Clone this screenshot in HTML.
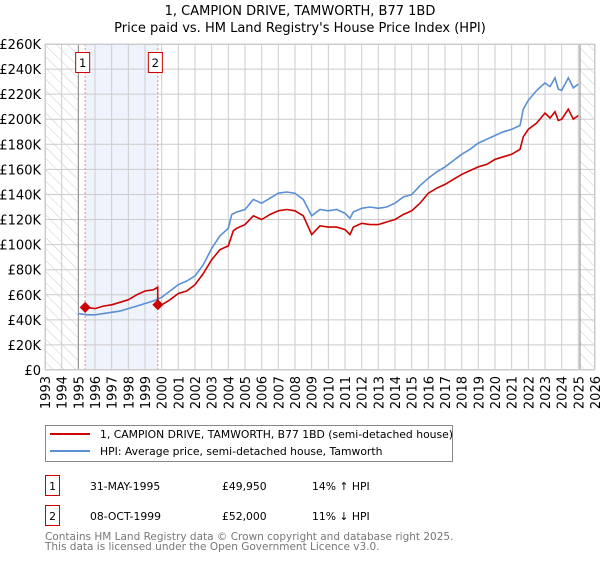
<!DOCTYPE html>
<html><head><meta charset="utf-8"><style>
body{margin:0;background:#fff;width:600px;height:560px;overflow:hidden;font-family:"DejaVu Sans","Liberation Sans",sans-serif;}
text{font-family:"DejaVu Sans","Liberation Sans",sans-serif;}
</style></head><body>
<svg id="chart" width="600" height="560" viewBox="0 0 600 560" xmlns="http://www.w3.org/2000/svg">
<defs>
<pattern id="hatch" patternUnits="userSpaceOnUse" width="8" height="8" patternTransform="rotate(-45)">
<line x1="0" y1="0" x2="0" y2="8" stroke="#ccc" stroke-width="1"/></pattern>
</defs>
<text x="300" y="15" text-anchor="middle" font-size="13">1, CAMPION DRIVE, TAMWORTH, B77 1BD</text>
<text x="300" y="32" text-anchor="middle" font-size="13">Price paid vs. HM Land Registry's House Price Index (HPI)</text>
<g id="plot"></g>
<rect x="45.5" y="425.5" width="407" height="36" fill="#fff" stroke="#888"/>
<line x1="50" y1="434" x2="90" y2="434" stroke="#cc0000" stroke-width="2"/>
<text x="100" y="438" font-size="10.8">1, CAMPION DRIVE, TAMWORTH, B77 1BD (semi-detached house)</text>
<line x1="50" y1="451" x2="90" y2="451" stroke="#5b8fd4" stroke-width="2"/>
<text x="100" y="455" font-size="10.8">HPI: Average price, semi-detached house, Tamworth</text>
<g>
<rect x="45.5" y="475.5" width="14" height="20" fill="#fff" stroke="#cc0000"/>
<text x="52.5" y="490" text-anchor="middle" font-size="10.8">1</text>
<text x="90" y="490" font-size="10.8">31-MAY-1995</text>
<text x="222" y="490" font-size="10.8">£49,950</text>
<text x="312" y="490" font-size="10.8">14% ↑ HPI</text></g>
<g>
<rect x="45.5" y="505.5" width="14" height="20" fill="#fff" stroke="#cc0000"/>
<text x="52.5" y="520" text-anchor="middle" font-size="10.8">2</text>
<text x="90" y="520" font-size="10.8">08-OCT-1999</text>
<text x="222" y="520" font-size="10.8">£52,000</text>
<text x="312" y="520" font-size="10.8">11% ↓ HPI</text></g>
<text x="45" y="540" font-size="10.5" fill="#777">Contains HM Land Registry data © Crown copyright and database right 2025.</text>
<text x="45" y="550" font-size="10.5" fill="#777">This data is licensed under the Open Government Licence v3.0.</text>
</svg>
<script>
const yTicks=[0,20,40,60,80,100,120,140,160,180,200,220,240,260];
const xYears=[1993,1994,1995,1996,1997,1998,1999,2000,2001,2002,2003,2004,2005,2006,2007,2008,2009,2010,2011,2012,2013,2014,2015,2016,2017,2018,2019,2020,2021,2022,2023,2024,2025,2026];
const hpiDates=[1995.0,1995.5,1996.0,1996.5,1997.0,1997.5,1998.0,1998.5,1999.0,1999.5,2000.0,2000.5,2001.0,2001.5,2002.0,2002.5,2003.0,2003.5,2004.0,2004.2,2004.5,2005.0,2005.5,2006.0,2006.5,2007.0,2007.5,2008.0,2008.5,2009.0,2009.5,2010.0,2010.5,2011.0,2011.3,2011.5,2012.0,2012.5,2013.0,2013.5,2014.0,2014.5,2015.0,2015.5,2016.0,2016.5,2017.0,2017.5,2018.0,2018.5,2019.0,2019.5,2020.0,2020.5,2021.0,2021.5,2021.7,2022.0,2022.5,2023.0,2023.3,2023.6,2023.8,2024.0,2024.4,2024.7,2025.0];
const hpiValues=[45,44,44,45,46,47,49,51,53,55,58,63,68,71,75,84,97,107,113,124,126,128,136,133,137,141,142,141,136,123,128,127,128,125,121,126,129,130,129,130,133,138,140,147,153,158,162,167,172,176,181,184,187,190,192,195,208,215,223,229,226,233,224,223,233,225,228];
const propDates=[1995.41,1996.0,1996.5,1997.0,1997.5,1998.0,1998.5,1999.0,1999.5,1999.76,1999.77,2000.0,2000.5,2001.0,2001.5,2002.0,2002.5,2003.0,2003.5,2004.0,2004.3,2004.5,2005.0,2005.5,2006.0,2006.5,2007.0,2007.5,2008.0,2008.5,2009.0,2009.5,2010.0,2010.5,2011.0,2011.3,2011.5,2012.0,2012.5,2013.0,2013.5,2014.0,2014.5,2015.0,2015.5,2016.0,2016.5,2017.0,2017.5,2018.0,2018.5,2019.0,2019.5,2020.0,2020.5,2021.0,2021.5,2021.7,2022.0,2022.5,2023.0,2023.3,2023.6,2023.8,2024.0,2024.4,2024.7,2025.0];
const propValues=[50,49,51,52,54,56,60,63,64,66,52,52,56,61,63,68,77,88,96,99,111,113,116,123,120,124,127,128,127,123,108,115,114,114,112,108,114,117,116,116,118,120,124,127,133,141,145,148,152,156,159,162,164,168,170,172,176,186,192,197,205,201,206,199,200,208,200,203];
const saleDates=[1995.41,1999.77];
const saleValues=[49.95,52];
const saleLabels=["1","2"];
const X0=45,X1=595,Y0=370,Y1=44;
const xs=t=>X0+(t-1993)/(2026-1993)*(X1-X0);
const ys=v=>Y0-v/260*(Y0-Y1);
const NS="http://www.w3.org/2000/svg";
const g=document.getElementById('plot');
function mk(tag,attrs){const e=document.createElementNS(NS,tag);for(const k in attrs)e.setAttribute(k,attrs[k]);g.appendChild(e);return e;}
let e;
e=mk('rect',{x:X0,y:Y1,width:X1-X0,height:Y0-Y1,fill:'#fff'});


e=mk('rect',{x:xs(saleDates[0]),y:Y1,width:xs(saleDates[1])-xs(saleDates[0]),height:Y0-Y1,fill:'#eef3fc'});


e=mk('rect',{x:X0,y:Y1,width:xs(1995)-X0,height:Y0-Y1,fill:'url(#hatch)'});


e=mk('rect',{x:xs(2025.1),y:Y1,width:X1-xs(2025.1),height:Y0-Y1,fill:'url(#hatch)'});


yTicks.forEach(v=>{
 e=mk('line',{x1:X0,x2:X1,y1:ys(v),y2:ys(v),stroke:'#ccc','stroke-width':1});
 
 
 e=mk('text',{x:X0-4,y:ys(v)+5,'text-anchor':'end','font-size':'13'});
 e.textContent=v===0?'£0':'£'+v+'K';
 
 
});
xYears.forEach(yr=>{
 e=mk('line',{x1:xs(yr),x2:xs(yr),y1:Y1,y2:Y0,stroke:'#ccc','stroke-width':1});
 
 
 e=mk('text',{x:0,y:0,'text-anchor':'end','font-size':'13',transform:`translate(${xs(yr)+5},${Y0+6}) rotate(-90)`});
 e.textContent=yr;
 
 
});
[1995,2025.1].forEach(t=>{
 e=mk('line',{x1:xs(t),x2:xs(t),y1:Y1,y2:Y0,stroke:'#888','stroke-width':1});
 
 
});
saleDates.forEach((d,i)=>{
 e=mk('line',{x1:xs(d),x2:xs(d),y1:Y1,y2:Y0,stroke:'#e88','stroke-width':1,'stroke-dasharray':'2,2'});
 
 
});
const pts=(ds,vs)=>ds.map((d,i)=>xs(d).toFixed(1)+','+ys(vs[i]).toFixed(1)).join(' ');
e=mk('polyline',{points:pts(hpiDates,hpiValues),fill:'none',stroke:'#5b8fd4','stroke-width':1.6});


e=mk('polyline',{points:pts(propDates,propValues),fill:'none',stroke:'#cc0000','stroke-width':1.6});


saleDates.forEach((d,i)=>{
 const cx=xs(d),cy=ys(saleValues[i]);
 e=mk('polygon',{points:`${cx},${cy-5.5} ${cx+5.5},${cy} ${cx},${cy+5.5} ${cx-5.5},${cy}`,fill:'#cc0000'});
 
 
 const bx=xs(d)-6;
 e=mk('rect',{x:bx-3.5,y:52.5,width:14,height:20,fill:'#fff',stroke:'#cc0000'});
 
 
 e=mk('text',{x:bx+3.5,y:67,'text-anchor':'middle','font-size':'11.5'});
 e.textContent=saleLabels[i];
 
 
});
e=mk('rect',{x:X0+0.5,y:Y1+0.5,width:X1-X0-1,height:Y0-Y1-1,fill:'none',stroke:'#ccc'});


</script>
</body></html>
